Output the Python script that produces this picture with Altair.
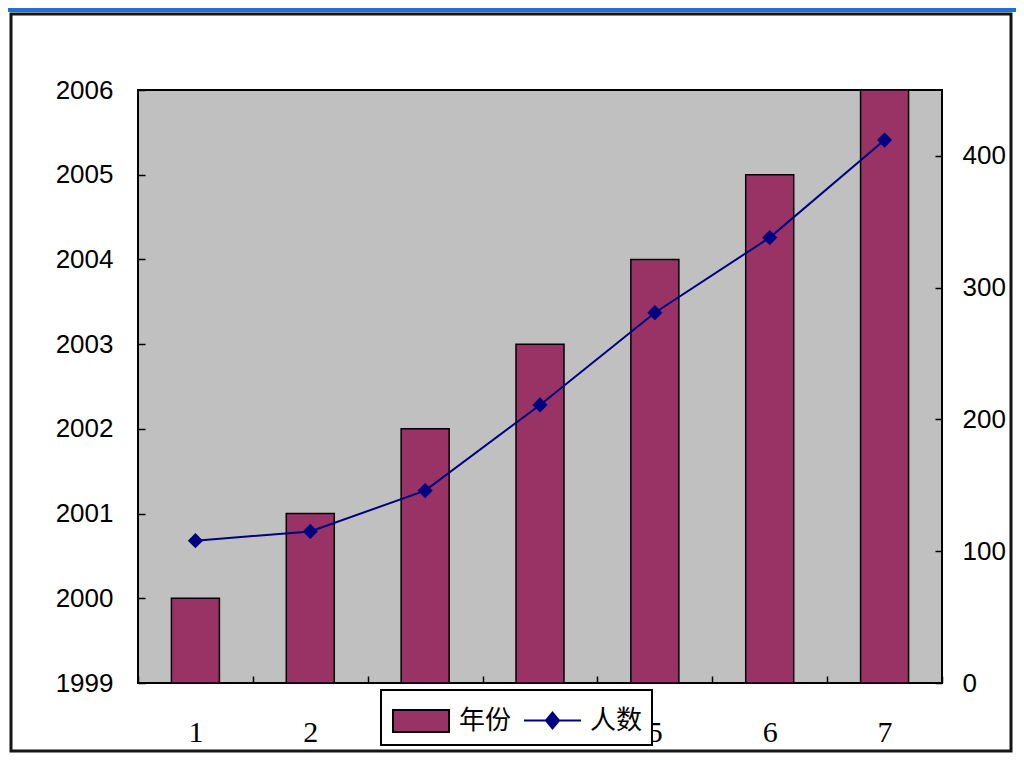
import altair as alt
import pandas as pd

categories = ["1", "2", "3", "4", "5", "6", "7"]
years = [2000, 2001, 2002, 2003, 2004, 2005, 2006]
people = [108, 115, 146, 211, 281, 338, 412]
year_series = "年份"
people_series = "人数"
left_ticks = [1999, 2000, 2001, 2002, 2003, 2004, 2005, 2006]
right_ticks = [0, 100, 200, 300, 400]

df = pd.DataFrame({
    "cat": categories,
    "year": years,
    "people": people,
    "s1": [year_series] * len(categories),
    "s2": [people_series] * len(categories),
})

NUM_FONT = "Liberation Sans"
BAR_COLOR = "#993366"
LINE_COLOR = "#000080"

xaxis = alt.Axis(
    title=None, labelAngle=0, labelFont="Liberation Serif", labelFontSize=30,
    labelColor="black", labelPadding=34, domain=False, ticks=True, tickSize=7,
    offset=-7, tickBand="extent", tickColor="black", tickWidth=1.5, grid=False,
)
xenc = alt.X("cat:N", sort=categories,
             scale=alt.Scale(type="band", paddingInner=0, paddingOuter=0),
             axis=xaxis)

bars = alt.Chart(df).mark_bar(size=48, stroke="black", strokeWidth=1.5).encode(
    x=xenc,
    y=alt.Y("year:Q",
            scale=alt.Scale(domain=[1999, 2006], zero=False, nice=False),
            axis=alt.Axis(orient="left", values=left_ticks, format="d", title=None,
                          grid=False, domain=False, tickSize=7, offset=-7,
                          tickColor="black", tickWidth=1.5,
                          labelPadding=25, labelFont=NUM_FONT, labelFontSize=26,
                          labelColor="black")),
    y2=alt.datum(1999),
    fill=alt.Fill("s1:N", scale=alt.Scale(range=[BAR_COLOR]),
                  legend=alt.Legend(title=None, orient="none", legendX=254, legendY=602,
                                    padding=0, symbolType="M-1,-0.39H1V0.39H-1Z",
                                    symbolSize=3136, symbolStrokeColor="black",
                                    symbolStrokeWidth=2, labelOffset=9,
                                    labelFont="Noto Sans CJK SC", labelFontSize=26,
                                    labelColor="black")),
)

yright = alt.Y("people:Q", scale=alt.Scale(domain=[0, 450], nice=False, zero=True),
               axis=alt.Axis(orient="right", values=right_ticks, title=None, grid=False,
                             domain=False, tickSize=7, offset=-7, tickColor="black",
                             tickWidth=1.5, labelPadding=20, labelFont=NUM_FONT,
                             labelFontSize=26, labelColor="black"))

line = alt.Chart(df).mark_line(strokeWidth=2).encode(
    x=xenc,
    y=yright,
    stroke=alt.Stroke("s2:N", scale=alt.Scale(range=[LINE_COLOR]),
                      legend=alt.Legend(title=None, orient="none", legendX=385, legendY=601,
                                        padding=0,
                                        symbolType="M-1,0H1M0,-0.28L0.23,0L0,0.28L-0.23,0Z",
                                        symbolSize=3249, symbolStrokeColor=LINE_COLOR,
                                        symbolFillColor=LINE_COLOR, symbolStrokeWidth=2,
                                        labelOffset=8, labelFont="Noto Sans CJK SC",
                                        labelFontSize=26, labelColor="black")),
)

points = alt.Chart(df).mark_point(shape="diamond", filled=True, size=230,
                                  color=LINE_COLOR, opacity=1).encode(
    x=xenc,
    y=yright,
)

one = pd.DataFrame({"d": [0]})

panel = alt.Chart(one).mark_rect(fill="white", fillOpacity=0, stroke="#151515",
                                 strokeWidth=3).encode(
    x=alt.value(-127), x2=alt.value(873), y=alt.value(-76), y2=alt.value(661))

top_strip = alt.Chart(one).mark_rect(color="#1f6fd6").encode(
    x=alt.value(-130), x2=alt.value(878), y=alt.value(-82), y2=alt.value(-78))

legend_box = alt.Chart(one).mark_rect(fill="white", stroke="black",
                                      strokeWidth=2).encode(
    x=alt.value(243), x2=alt.value(514), y=alt.value(600), y2=alt.value(655))

chart = alt.layer(
    top_strip, panel, bars, alt.layer(line, points), legend_box
).resolve_scale(
    y="independent", fill="independent", stroke="independent"
).properties(
    width=804, height=593,
    padding={"left": 130, "top": 82, "right": 74, "bottom": 71},
    autosize=alt.AutoSizeParams(type="none"),
    background="white",
).configure_view(
    fill="#C0C0C0", stroke="black", strokeWidth=2
)

chart.save("out.html", embed_options={"renderer": "svg", "actions": False})
